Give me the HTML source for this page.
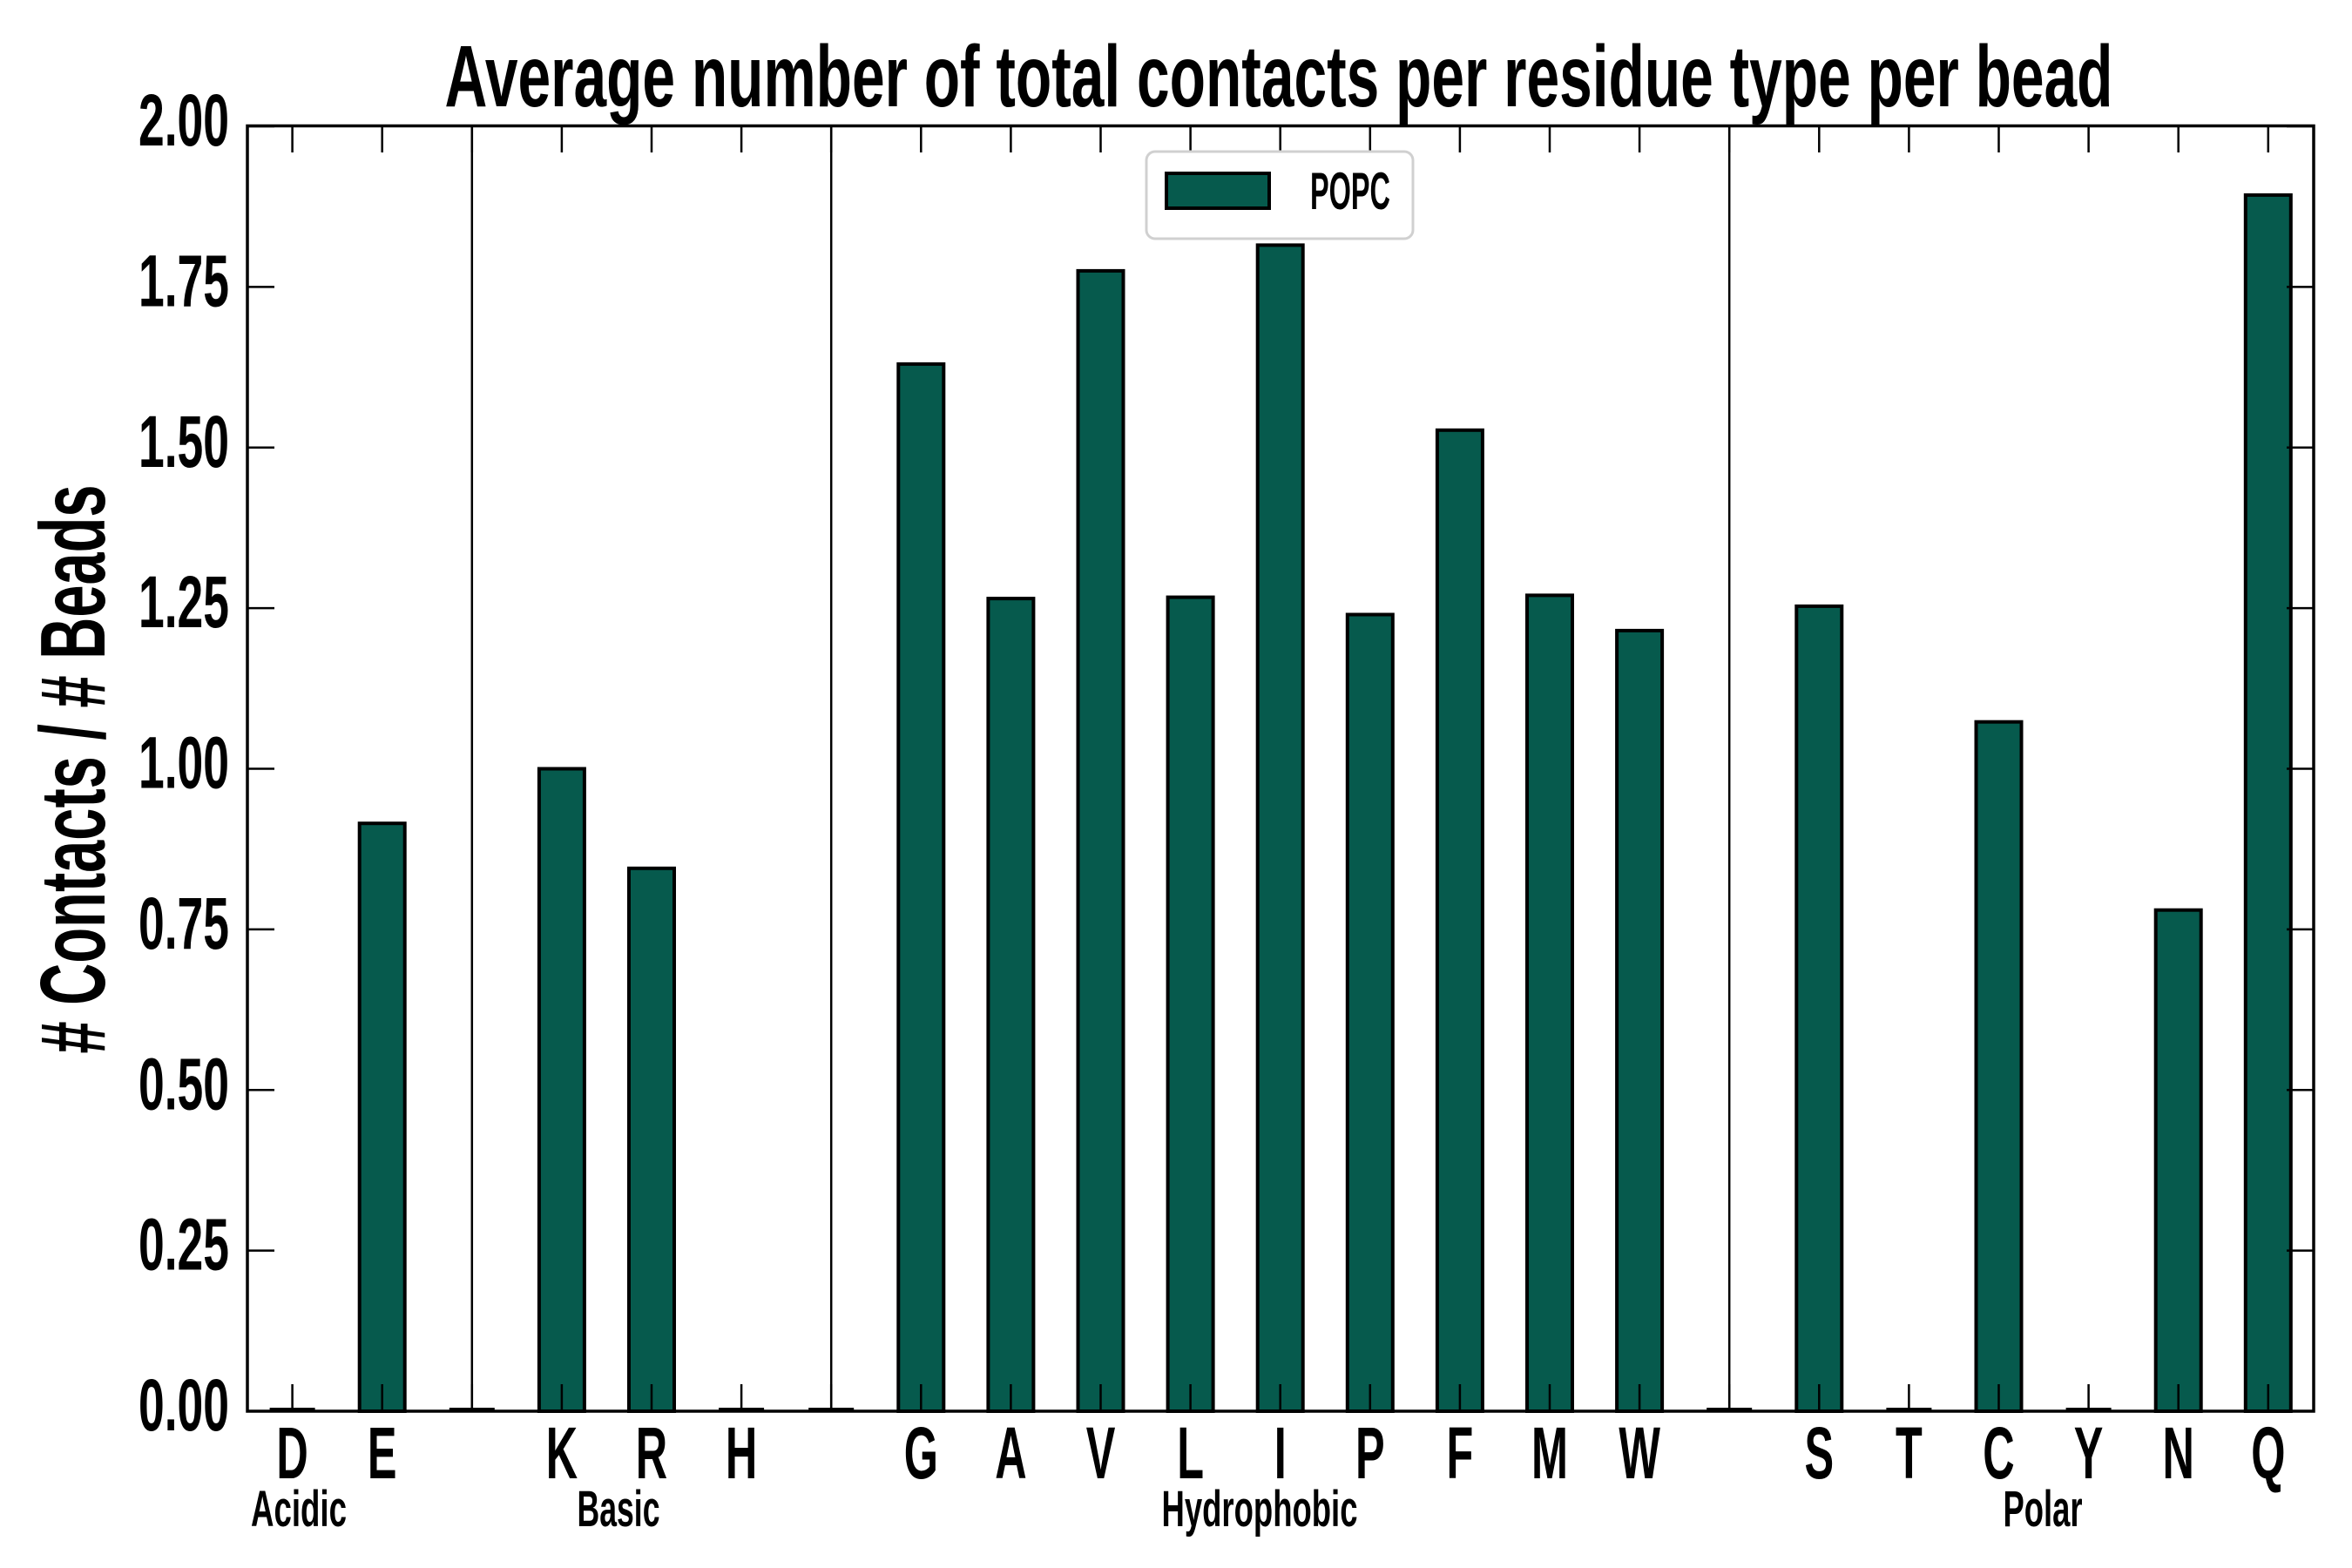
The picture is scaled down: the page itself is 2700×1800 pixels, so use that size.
<!DOCTYPE html>
<html><head><meta charset="utf-8"><style>
html,body{margin:0;padding:0;background:#fff;}
svg{display:block;}
text{font-family:"Liberation Sans",sans-serif;font-weight:bold;fill:#000;}
</style></head><body>
<svg width="2700" height="1800" viewBox="0 0 2700 1800" xmlns="http://www.w3.org/2000/svg">
<rect width="2700" height="1800" fill="#fff"/>
<text x="1468" y="122" font-size="100" text-anchor="middle" textLength="1915" lengthAdjust="spacingAndGlyphs">Average number of total contacts per residue type per bead</text>
<text transform="translate(120,883) rotate(-90)" font-size="106" text-anchor="middle" textLength="653" lengthAdjust="spacingAndGlyphs"># Contacts / # Beads</text>
<g stroke="#000" stroke-width="2.5">
<line x1="541.8" y1="144" x2="541.8" y2="1620"/>
<line x1="954.2" y1="144" x2="954.2" y2="1620"/>
<line x1="1985.2" y1="144" x2="1985.2" y2="1620"/>
</g>
<g stroke="#000" stroke-width="4">
<path d="M309.6 1618h52M515.8 1618h52M825.1 1618h52M928.2 1618h52M1959.2 1618h52M2165.4 1618h52M2371.6 1618h52"/>
</g>
<g fill="#065a4d" stroke="#000" stroke-width="4">
<rect x="412.7" y="945.2" width="52" height="674.8"/>
<rect x="618.9" y="882.5" width="52" height="737.5"/>
<rect x="722" y="996.8" width="52" height="623.2"/>
<rect x="1031.3" y="417.9" width="52" height="1202.1"/>
<rect x="1134.4" y="687.1" width="52" height="932.9"/>
<rect x="1237.5" y="310.9" width="52" height="1309.1"/>
<rect x="1340.6" y="685.6" width="52" height="934.4"/>
<rect x="1443.7" y="281.4" width="52" height="1338.6"/>
<rect x="1546.8" y="705.5" width="52" height="914.5"/>
<rect x="1649.9" y="493.8" width="52" height="1126.2"/>
<rect x="1753" y="683.4" width="52" height="936.6"/>
<rect x="1856.1" y="723.9" width="52" height="896.1"/>
<rect x="2062.3" y="695.9" width="52" height="924.1"/>
<rect x="2268.5" y="828.7" width="52" height="791.3"/>
<rect x="2474.7" y="1044.7" width="52" height="575.3"/>
<rect x="2577.8" y="223.9" width="52" height="1396.1"/>
</g>
<g stroke="#000" stroke-width="2.5">
<path d="M335.6 144v31M438.7 144v31M541.8 144v31M644.9 144v31M748 144v31M851.1 144v31M954.2 144v31M1057.3 144v31M1160.4 144v31M1263.5 144v31M1366.6 144v31M1469.7 144v31M1572.8 144v31M1675.9 144v31M1779 144v31M1882.1 144v31M1985.2 144v31M2088.3 144v31M2191.4 144v31M2294.5 144v31M2397.6 144v31M2500.7 144v31M2603.8 144v31"/>
<path d="M335.6 1620v-31M438.7 1620v-31M541.8 1620v-31M644.9 1620v-31M748 1620v-31M851.1 1620v-31M954.2 1620v-31M1057.3 1620v-31M1160.4 1620v-31M1263.5 1620v-31M1366.6 1620v-31M1469.7 1620v-31M1572.8 1620v-31M1675.9 1620v-31M1779 1620v-31M1882.1 1620v-31M1985.2 1620v-31M2088.3 1620v-31M2191.4 1620v-31M2294.5 1620v-31M2397.6 1620v-31M2500.7 1620v-31M2603.8 1620v-31"/>
<path d="M284 145h31M284 329.4h31M284 513.8h31M284 698.1h31M284 882.5h31M284 1066.9h31M284 1251.3h31M284 1435.6h31M284 1620h31"/>
<path d="M2656 145h-31M2656 329.4h-31M2656 513.8h-31M2656 698.1h-31M2656 882.5h-31M2656 1066.9h-31M2656 1251.3h-31M2656 1435.6h-31M2656 1620h-31"/>
</g>
<rect x="284" y="144.5" width="2372" height="1475.5" fill="none" stroke="#000" stroke-width="3.5"/>
<g font-size="84" text-anchor="end">
<text x="263" y="167" textLength="104" lengthAdjust="spacingAndGlyphs">2.00</text>
<text x="263" y="351.4" textLength="104" lengthAdjust="spacingAndGlyphs">1.75</text>
<text x="263" y="535.8" textLength="104" lengthAdjust="spacingAndGlyphs">1.50</text>
<text x="263" y="720.1" textLength="104" lengthAdjust="spacingAndGlyphs">1.25</text>
<text x="263" y="904.5" textLength="104" lengthAdjust="spacingAndGlyphs">1.00</text>
<text x="263" y="1088.9" textLength="104" lengthAdjust="spacingAndGlyphs">0.75</text>
<text x="263" y="1273.3" textLength="104" lengthAdjust="spacingAndGlyphs">0.50</text>
<text x="263" y="1457.6" textLength="104" lengthAdjust="spacingAndGlyphs">0.25</text>
<text x="263" y="1642" textLength="104" lengthAdjust="spacingAndGlyphs">0.00</text>
</g>
<g font-size="84" text-anchor="middle">
<text transform="translate(335.6,1697) scale(0.6,1)">D</text>
<text transform="translate(438.7,1697) scale(0.6,1)">E</text>
<text transform="translate(644.9,1697) scale(0.6,1)">K</text>
<text transform="translate(748,1697) scale(0.6,1)">R</text>
<text transform="translate(851.1,1697) scale(0.6,1)">H</text>
<text transform="translate(1057.3,1697) scale(0.6,1)">G</text>
<text transform="translate(1160.4,1697) scale(0.6,1)">A</text>
<text transform="translate(1263.5,1697) scale(0.6,1)">V</text>
<text transform="translate(1366.6,1697) scale(0.6,1)">L</text>
<text transform="translate(1469.7,1697) scale(0.6,1)">I</text>
<text transform="translate(1572.8,1697) scale(0.6,1)">P</text>
<text transform="translate(1675.9,1697) scale(0.6,1)">F</text>
<text transform="translate(1779,1697) scale(0.6,1)">M</text>
<text transform="translate(1882.1,1697) scale(0.6,1)">W</text>
<text transform="translate(2088.3,1697) scale(0.6,1)">S</text>
<text transform="translate(2191.4,1697) scale(0.6,1)">T</text>
<text transform="translate(2294.5,1697) scale(0.6,1)">C</text>
<text transform="translate(2397.6,1697) scale(0.6,1)">Y</text>
<text transform="translate(2500.7,1697) scale(0.6,1)">N</text>
<text transform="translate(2603.8,1697) scale(0.6,1)">Q</text>
</g>
<g font-size="58" text-anchor="middle">
<text x="343" y="1752" textLength="110" lengthAdjust="spacingAndGlyphs">Acidic</text>
<text x="710" y="1752" textLength="95" lengthAdjust="spacingAndGlyphs">Basic</text>
<text x="1446" y="1752" textLength="225" lengthAdjust="spacingAndGlyphs">Hydrophobic</text>
<text x="2345" y="1752" textLength="91" lengthAdjust="spacingAndGlyphs">Polar</text>
</g>
<rect x="1316" y="174" width="306" height="100" rx="10" ry="10" fill="#fff" stroke="#d0d0d0" stroke-width="3"/>
<rect x="1339" y="199" width="118" height="40" fill="#065a4d" stroke="#000" stroke-width="4"/>
<text x="1504" y="240" font-size="60" textLength="92" lengthAdjust="spacingAndGlyphs">POPC</text>
</svg>
</body></html>
